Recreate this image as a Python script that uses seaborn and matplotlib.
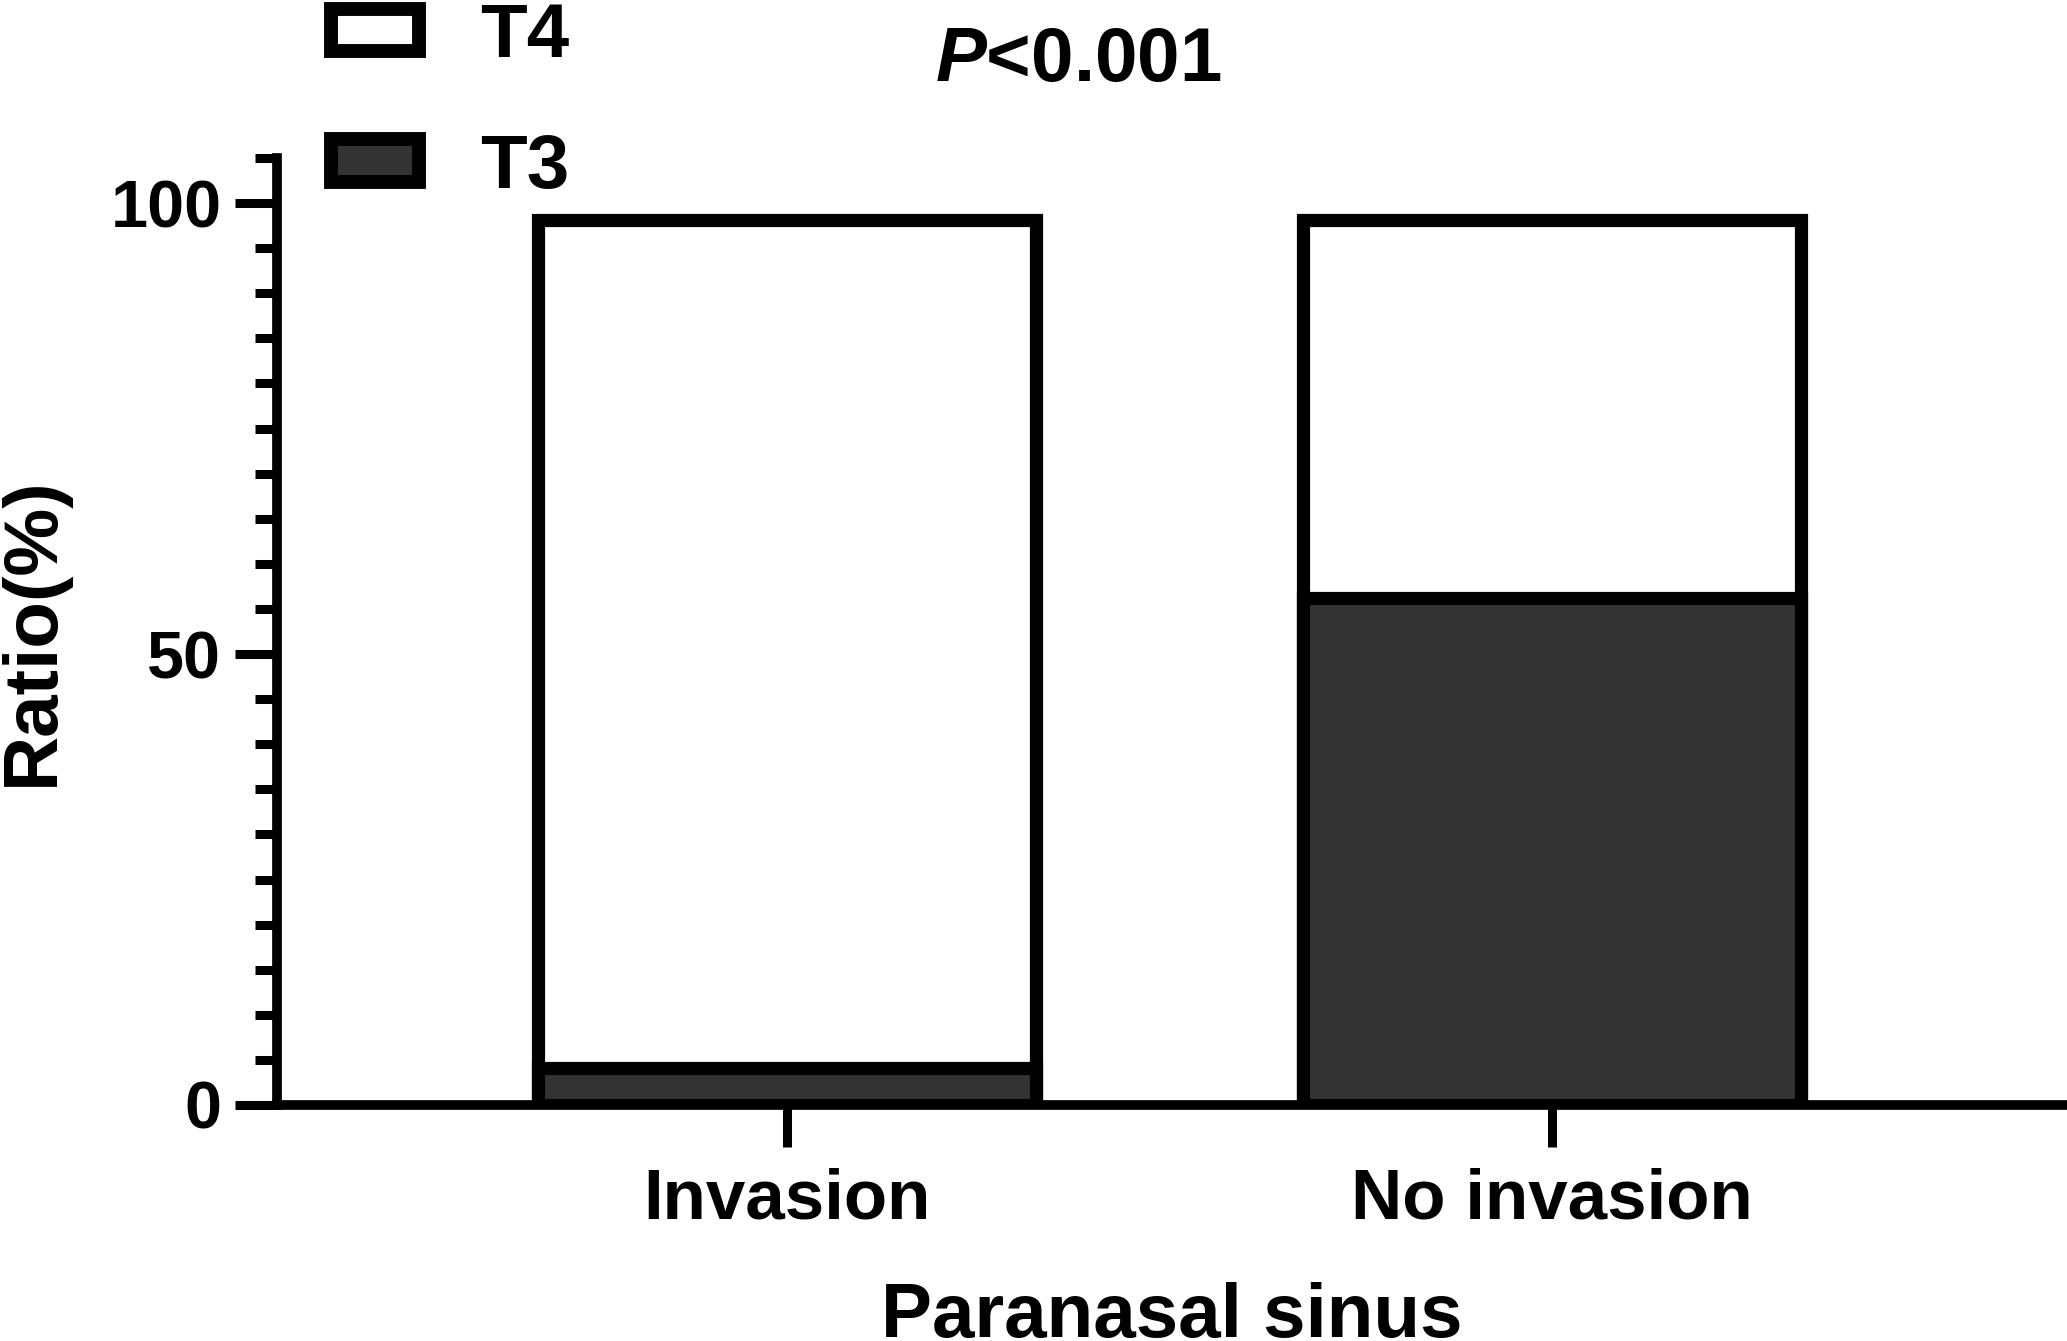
import pandas as pd
import matplotlib
matplotlib.use("Agg")
import matplotlib.pyplot as plt
import seaborn as sns
from matplotlib.patches import Patch
from matplotlib.ticker import MultipleLocator, FixedLocator

# Ratios (%)
groups = ["Invasion", "No invasion"]
t3_ratio = [4.1, 56.2]
t4_ratio = [94.0, 41.9]
legend_labels = ["T4", "T3"]
t4_color = "#ffffff"
t3_color = "#333333"

df = pd.DataFrame({"group": groups, "T3": t3_ratio, "T4": t4_ratio})
df["total"] = df["T3"] + df["T4"]

sns.set_theme(style="ticks")
plt.rcParams['font.family'] = ['Liberation Sans', 'DejaVu Sans']
plt.rcParams['font.weight'] = 'bold'
plt.rcParams['text.color'] = 'black'
plt.rcParams['axes.labelcolor'] = 'black'
plt.rcParams['xtick.color'] = 'black'
plt.rcParams['ytick.color'] = 'black'
plt.rcParams['mathtext.fontset'] = 'custom'
plt.rcParams['mathtext.it'] = 'Liberation Sans:italic:bold'
plt.rcParams['mathtext.rm'] = 'Liberation Sans:bold'

fig = plt.figure(figsize=(20.67, 13.41), dpi=100)
ax = fig.add_axes([0.134, 0.176, 0.866, 0.7062])

# stacked bars: total (white, T4 on top) then T3 drawn over it
sns.barplot(data=df, x="group", y="total", color=t4_color, saturation=1,
            edgecolor="black", linewidth=9.5, width=0.651, errorbar=None, ax=ax)
sns.barplot(data=df, x="group", y="T3", color=t3_color, saturation=1,
            edgecolor="black", linewidth=9.5, width=0.651, errorbar=None, ax=ax)

ax.set_xlim(-0.667, 1.673)
ax.set_ylim(0, 105)
ax.yaxis.set_major_locator(FixedLocator([0, 50, 100]))
ax.yaxis.set_minor_locator(MultipleLocator(5))

for s in ["top", "right"]:
    ax.spines[s].set_visible(False)
for s in ["left", "bottom"]:
    ax.spines[s].set_linewidth(7)
    ax.spines[s].set_color("black")

ax.tick_params(axis="y", which="major", length=30, width=6.5, labelsize=48, pad=10)
ax.tick_params(axis="y", which="minor", length=16, width=6.5)
ax.tick_params(axis="x", which="major", length=30, width=6.5, labelsize=51, pad=15)

ax.set_xlabel("Paranasal sinus", fontsize=55, fontweight="bold", labelpad=35)
ax.set_ylabel("Ratio(%)", fontsize=55, fontweight="bold", labelpad=30)

handles = [Patch(facecolor=t4_color, edgecolor="black", linewidth=10),
           Patch(facecolor=t3_color, edgecolor="black", linewidth=10)]
fig.legend(handles, legend_labels, loc="upper left", bbox_to_anchor=(0.160, 0.9985),
           frameon=False, fontsize=55, handlelength=1.15, handleheight=0.48,
           handletextpad=0.81, labelspacing=0.78, borderpad=0, borderaxespad=0)

fig.text(1078 / 2067, 1 - 61 / 1341, "$P$<0.001", ha="center", va="center",
         fontsize=55, fontweight="bold")

fig.savefig("out.png", dpi=100)
